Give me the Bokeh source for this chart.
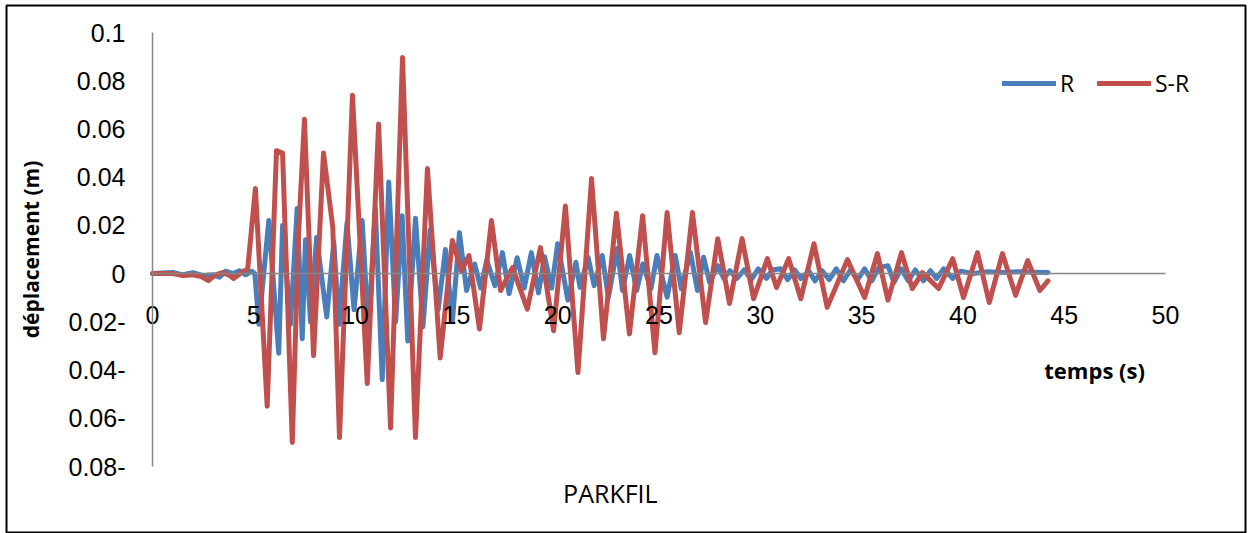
from bokeh.plotting import figure
from bokeh.models import Range1d, FixedTicker, Label, Legend, LegendItem
from bokeh.embed import file_html
from bokeh.resources import INLINE

# ---- data ----
r_time = [0, 1.0, 1.5, 2.0, 2.5, 3.0, 3.3, 3.6, 4.0, 4.3, 4.6, 4.9, 5.05,
          5.25, 5.74, 6.23, 6.42, 6.81, 7.14, 7.39, 7.55, 7.8, 8.1, 8.6, 8.95, 9.2,
          9.6, 9.95, 10.35, 10.66, 11.0, 11.34, 11.66, 12.0, 12.32, 12.6, 12.98,
          13.35, 13.7, 14.1, 14.46, 14.8, 15.15, 15.5, 15.9, 16.2, 16.5, 16.9,
          17.27, 17.6, 18.0, 18.35, 18.7, 19.05, 19.35, 19.7, 20.0, 20.5, 20.9,
          21.1, 21.5, 21.8, 22.2, 22.5, 22.94, 23.2, 23.55, 23.9, 24.2, 24.6,
          24.9, 25.4, 25.8, 26.1, 26.55, 26.9, 27.2, 27.5, 27.9, 28.2, 28.5,
          28.85, 29.2, 29.55, 29.9, 30.3, 30.6, 31.0, 31.35, 31.7, 32.0, 32.4,
          32.7, 33.05, 33.4, 33.75, 34.1, 34.45, 34.8, 35.15, 35.5, 35.85, 36.3,
          36.6, 36.95, 37.3, 37.65, 38.05, 38.4, 38.7, 39.05, 39.5, 39.9, 40.5,
          41.2, 42.0, 42.8, 43.5, 44.2]
r_value = [0, 0.0005, -0.0005, 0.0004, -0.0008, -0.0005, -0.0015, 0.001, 0.0, 0.0012, -0.0005, 0.001, 0.0,
           -0.021, 0.022, -0.033, 0.020, -0.021, 0.027, -0.027, 0.014, -0.020, 0.015, -0.018, 0.013, -0.021,
           0.021, -0.015, 0.022, -0.024, 0.027, -0.044, 0.038, -0.020, 0.024, -0.028, 0.023,
           -0.022, 0.018, -0.015, 0.010, -0.020, 0.017, -0.007, 0.004, -0.006, 0.0055, -0.005,
           0.0087, -0.0083, 0.0066, -0.006, 0.0087, -0.008, 0.007, -0.006, 0.0124, -0.011, 0.0047,
           -0.0057, 0.0068, -0.005, 0.0075, -0.0098, 0.0104, -0.007, 0.0075, -0.007, 0.004, -0.0063,
           0.0075, -0.0098, 0.0075, -0.0063, 0.0088, -0.007, 0.0068, -0.0036, 0.0033, -0.002, 0.0012,
           -0.002, 0.0015, -0.0025, 0.002, -0.002, 0.0015, 0.002, -0.0025, 0.0015, -0.002, 0.001,
           -0.003, 0.0012, -0.0025, 0.002, -0.003, 0.0015, -0.0025, 0.002, -0.003, 0.0025, 0.0033,
           -0.0036, 0.002, -0.003, 0.0015, -0.003, 0.0012, -0.002, 0.002, -0.002, 0.001, 0.0,
           0.0008, 0.0005, 0.0008, 0.0006, 0.0005]

sr_time = [0, 1.0, 1.5, 2.0, 2.4, 2.76, 3.1, 3.45, 3.75, 4.0, 4.4, 4.7,
           5.08, 5.66, 6.12, 6.42, 6.9, 7.2, 7.5, 7.95, 8.44, 8.9, 9.23, 9.87,
           10.6, 11.16, 11.75, 12.34, 12.98, 13.57, 14.2, 14.8, 15.25, 15.62,
           16.14, 16.73, 17.18, 17.77, 18.5, 19.15, 19.8, 20.38, 21.0, 21.67,
           22.26, 22.9, 23.54, 24.19, 24.8, 25.4, 26.0, 26.65, 27.3, 27.9, 28.48,
           29.1, 29.67, 30.35, 30.8, 31.4, 32.0, 32.65, 33.3, 34.3, 35.15, 35.78,
           36.3, 36.97, 37.5, 38.0, 38.8, 39.5, 40.03, 40.72, 41.3, 41.95, 42.6,
           43.2, 43.8, 44.2]
sr_value = [0, 0.0, -0.0008, -0.0005, -0.0012, -0.0029, -0.0005, 0.0004, -0.0005, -0.002, 0.0005, 0.002,
            0.0353, -0.055, 0.051, 0.050, -0.070, 0.015, 0.064, -0.034, 0.050, 0.019, -0.068, 0.074,
            -0.0456, 0.062, -0.064, 0.0896, -0.068, 0.0436, -0.035, 0.0137, 0.0012, 0.0075,
            -0.023, 0.022, -0.007, 0.0025, -0.0147, 0.0108, -0.0237, 0.028, -0.041, 0.0394,
            -0.027, 0.025, -0.025, 0.024, -0.0328, 0.0253, -0.0245, 0.0253, -0.0203, 0.0145, -0.0124,
            0.0145, -0.0104, 0.0062, -0.0058, 0.0062, -0.0104, 0.0124, -0.014, 0.0058, -0.0099, 0.0083,
            -0.011, 0.0087, -0.0062, 0.0004, -0.0062, 0.0062, -0.0099, 0.0087, -0.012, 0.0083, -0.009,
            0.0054, -0.007, -0.003]

x_ticks = [0, 5, 10, 15, 20, 25, 30, 35, 40, 45, 50]
y_ticks = [-0.08, -0.06, -0.04, -0.02, 0, 0.02, 0.04, 0.06, 0.08, 0.1]
y_tick_labels = ["0.08-", "0.06-", "0.04-", "0.02-", "0", "0.02", "0.04", "0.06", "0.08", "0.1"]
series_names = ["R", "S-R"]
x_title = "temps (s)"
y_title = "déplacement (m)"
chart_title = "PARKFIL"

# ---- layout (pixels) ----
W, H = 1250, 533
BOX_L, BOX_R, BOX_T, BOX_B = 6, 1245, 5, 533      # outer chart border
PLOT_L, PLOT_R, PLOT_T, PLOT_B = 152, 1165, 32, 466  # axis extents
X0, X1 = x_ticks[0], x_ticks[-1]
Y0, Y1 = y_ticks[0], y_ticks[-1]
sx = (PLOT_R - PLOT_L) / (X1 - X0)
sy = (PLOT_B - PLOT_T) / (Y1 - Y0)
x_range = Range1d(X0 - (PLOT_L - BOX_L) / sx, X1 + (BOX_R - PLOT_R) / sx)
y_range = Range1d(Y0 - (BOX_B - PLOT_B) / sy, Y1 + (PLOT_T - BOX_T) / sy)

p = figure(width=W, height=H, x_range=x_range, y_range=y_range,
           output_backend="svg", toolbar_location=None,
           min_border_left=BOX_L, min_border_right=W - BOX_R,
           min_border_top=BOX_T, min_border_bottom=H - BOX_B)
p.xgrid.visible = False
p.ygrid.visible = False
p.outline_line_color = "black"
p.outline_line_width = 2
p.background_fill_color = "white"
p.border_fill_color = "white"

axis_gray = "#868686"
tick_font = "Liberation Sans"

# x axis crossing at y = 0
p.xaxis.fixed_location = 0
p.xaxis.bounds = (X0, X1)
p.xaxis.ticker = FixedTicker(ticks=x_ticks)
p.xaxis.axis_line_color = axis_gray
p.xaxis.axis_line_width = 1.5
p.xaxis.major_tick_line_color = None
p.xaxis.minor_tick_line_color = None
p.xaxis.major_label_text_font = tick_font
p.xaxis.major_label_text_font_size = "25px"
p.xaxis.major_label_text_color = "black"
p.xaxis.major_label_standoff = 26

# y axis at x = 0
p.yaxis.fixed_location = 0
p.yaxis.bounds = (Y0, Y1)
p.yaxis.ticker = FixedTicker(ticks=y_ticks)
p.yaxis.major_label_overrides = dict(zip(y_ticks, y_tick_labels))
p.yaxis.axis_line_color = axis_gray
p.yaxis.axis_line_width = 1.5
p.yaxis.major_tick_line_color = None
p.yaxis.minor_tick_line_color = None
p.yaxis.major_label_text_font = tick_font
p.yaxis.major_label_text_font_size = "25px"
p.yaxis.major_label_text_color = "black"
p.yaxis.major_label_standoff = 21
p.yaxis.axis_label = y_title
p.yaxis.axis_label_text_font = "Open Sans"
p.yaxis.axis_label_text_font_style = "bold"
p.yaxis.axis_label_text_font_size = "21px"
p.yaxis.axis_label_text_color = "black"
p.yaxis.axis_label_standoff = 21

rb = p.line(r_time, r_value, line_color="#4A7EBB", line_width=5, line_join="round", line_cap="round")
rr = p.line(sr_time, sr_value, line_color="#C0504D", line_width=5, line_join="round", line_cap="round")

legend = Legend(items=[LegendItem(label=series_names[0], renderers=[rb]),
                       LegendItem(label=series_names[1], renderers=[rr])],
                orientation="horizontal", location=(1002 - BOX_L, BOX_B - 99),
                border_line_color=None, background_fill_alpha=0,
                padding=0, margin=0, spacing=17, glyph_width=54, glyph_height=20,
                label_standoff=4, label_text_font="Open Sans", label_text_font_size="23px",
                label_text_color="black")
p.add_layout(legend)

p.add_layout(Label(x=46.5, y=-0.040, text=x_title, text_font="Open Sans", text_font_style="bold",
                   text_font_size="22px", text_align="center", text_baseline="middle",
                   text_color="black"))
p.add_layout(Label(x=22.6, y=-0.0911, text=chart_title, text_font="Open Sans",
                   text_font_size="25px", text_align="center", text_baseline="middle",
                   text_color="black"))

open("out.html", "w").write(file_html(p, INLINE))
